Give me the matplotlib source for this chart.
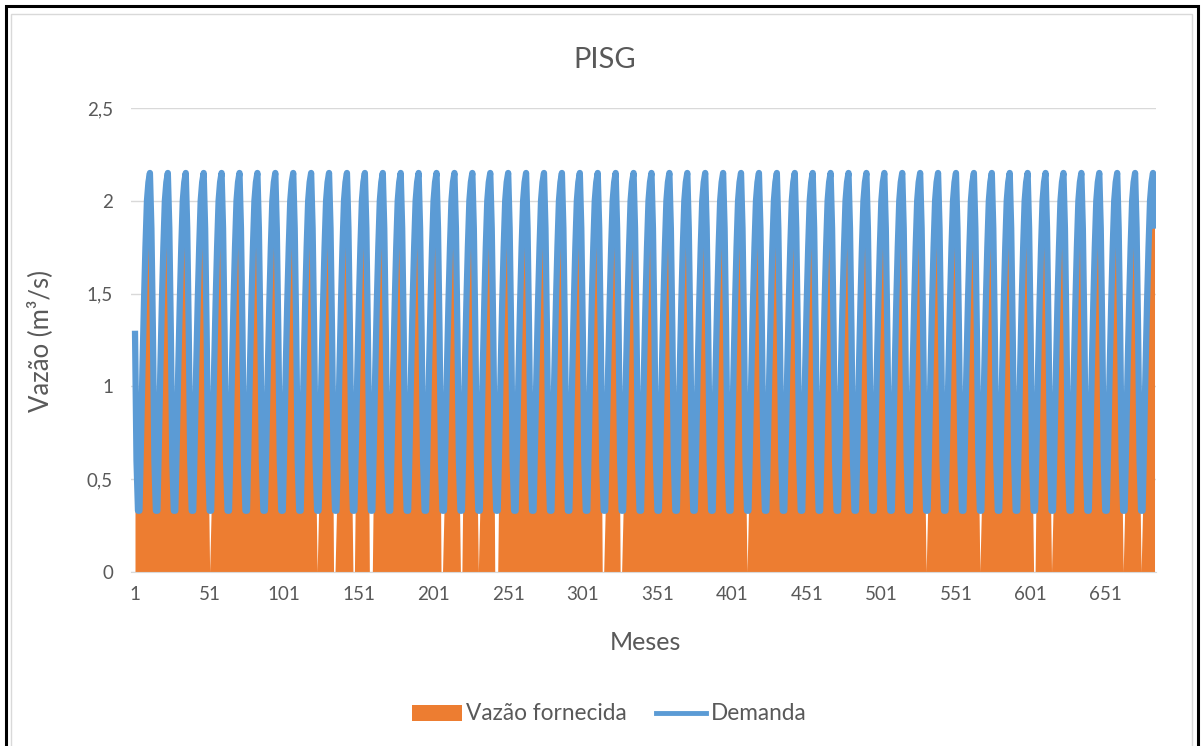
import matplotlib
matplotlib.use("Agg")
import matplotlib.pyplot as plt
from matplotlib.patches import Rectangle, Patch
from matplotlib.lines import Line2D

# ---- data ----
n_years = 57
monthly_demand = [1.30, 0.60, 0.33, 0.33, 0.70, 1.10, 1.45, 1.75, 2.00, 2.10, 2.15, 1.85]
demanda = monthly_demand * n_years
months = list(range(1, len(demanda) + 1))
failure_months = [51, 123, 134, 135, 147, 148, 158, 159, 160, 206, 207, 219, 220, 231,
                  242, 243, 244, 314, 315, 326, 327, 411, 531, 567, 603, 604, 615, 663, 675]
vazao_fornecida = [0.0 if m in failure_months else d for m, d in zip(months, demanda)]
xtick_labels = list(range(1, len(demanda) + 1, 50))
ytick_values = [0, 0.5, 1, 1.5, 2, 2.5]
ytick_labels = ["0", "0,5", "1", "1,5", "2", "2,5"]

FONT = ["Lato", "DejaVu Sans"]
plt.rcParams["font.family"] = FONT
GRAY = "#595959"
ORANGE = "#ED7D31"
BLUE = "#5B9BD5"
W, H = 1203, 746

fig = plt.figure(figsize=(W / 100, H / 100), dpi=100)
# outer document frame and inner chart-area border
fig.patches.append(Rectangle((5.5 / W, -0.02), 1192.5 / W, 1.02 - 6 / H, transform=fig.transFigure,
                             fill=False, edgecolor="black", linewidth=2.2))
fig.patches.append(Rectangle((11 / W, -0.02), 1181 / W, 1.02 - 14 / H, transform=fig.transFigure,
                             fill=False, edgecolor="#d9d9d9", linewidth=1.0))

ax = fig.add_axes([131 / W, 1 - 572 / H, 1025 / W, 464 / H])
ax.fill_between(months, vazao_fornecida, 0, color=ORANGE, linewidth=0)
ax.plot(months, demanda, color=BLUE, linewidth=4.5, solid_joinstyle="round",
        solid_capstyle="butt")
ax.set_xlim(-1.68, 685.0)
ax.set_ylim(0, 2.5)
ax.set_yticks(ytick_values)
ax.set_yticklabels(ytick_labels)
ax.set_xticks(xtick_labels)
ax.set_xticklabels([str(v) for v in xtick_labels])
ax.tick_params(axis="both", length=0, labelsize=13.5, labelcolor=GRAY)
ax.tick_params(axis="x", pad=10)
ax.tick_params(axis="y", pad=13)
ax.grid(axis="y", color="#d9d9d9", linewidth=1)
ax.set_axisbelow(True)
for s in ["top", "right", "left"]:
    ax.spines[s].set_visible(False)
ax.spines["bottom"].set_color("#d9d9d9")

fig.text(605 / W, 1 - 60 / H, "PISG", fontsize=21, color=GRAY, ha="center", va="center")
fig.text(645 / W, 1 - 642 / H, "Meses", fontsize=18, color=GRAY, ha="center", va="center")
fig.text(40 / W, 1 - 341 / H, "Vazão (m³/s)", fontsize=18.5, color=GRAY, ha="center",
         va="center", rotation=90)

handles = [Patch(facecolor=ORANGE, edgecolor="none", label="Vazão fornecida"),
           Line2D([0], [0], color=BLUE, linewidth=3.5, label="Demanda")]
fig.legend(handles=handles, loc="center", bbox_to_anchor=(609 / W, 1 - 714 / H), ncol=2,
           frameon=False, fontsize=16.3, labelcolor=GRAY, handlelength=2.2,
           handletextpad=0.2, columnspacing=1.3, borderpad=0)

fig.savefig("out.png", dpi=100)
